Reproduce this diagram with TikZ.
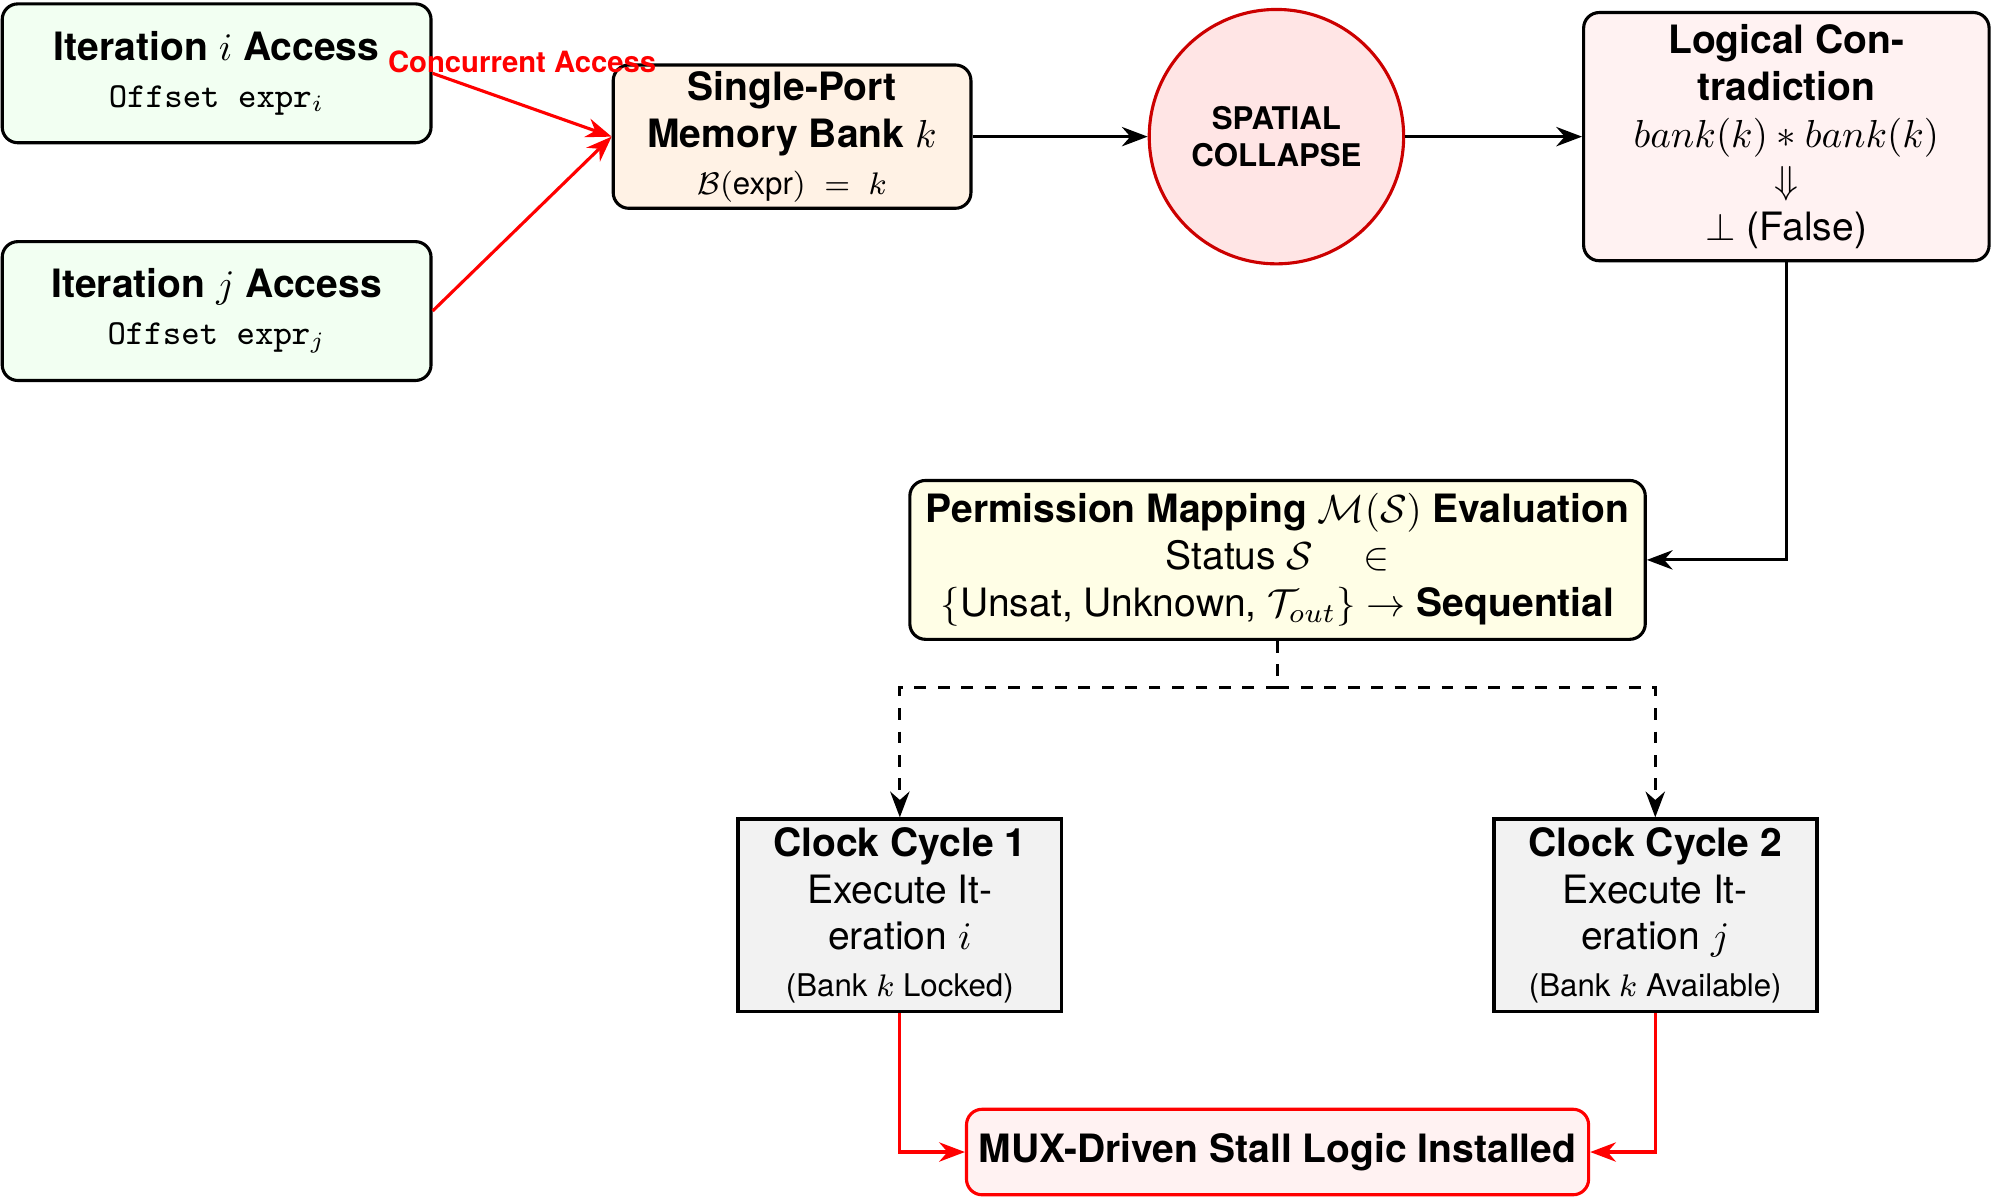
\documentclass[tikz,border=0pt]{standalone}
\usepackage{amsmath}
\usepackage{fontspec}
\setmainfont{TeX Gyre Heros}
\usetikzlibrary{arrows.meta}

\begin{document}
\begin{tikzpicture}[
        >=Stealth,
        box/.style = {draw, thick, rounded corners, align=center, inner sep=3pt}, % базовый блок
        access/.style = {box, fill=green!5, minimum width=3.86cm, minimum height=1.25cm}, % доступ итерации
        bank/.style = {box, inner sep=1pt, fill=orange!10, minimum width=3.22cm, minimum height=1.29cm},
        collapse/.style = {circle, draw=red!80!black, thick, fill=red!10, minimum size=2.29cm, align=center, font=\footnotesize\bfseries},
        logic/.style = {box, fill=red!5, minimum width=3.65cm, minimum height=2.22cm},
        perm/.style = {box, fill=yellow!10, minimum width=6.62cm, minimum height=1.43cm},
        clockbox/.style = {draw, line width=1pt, inner sep=1pt, fill=gray!10, align=center, minimum width=2.91cm, minimum height=1.73cm}, % такт
        mux/.style = {box, draw=red, fill=red!5, minimum width=5.6cm, minimum height=0.77cm},
        flow/.style = {thick, ->}, % обычная стрелка
        conflict/.style = {red, thick, ->}, % красная стрелка
    ]
    \useasboundingbox (0,0) rectangle (17.94,-10.77);

    \node[access] (iteri) at (1.95,-0.66) {\textbf{Iteration $i$ Access}\\{\small\texttt{Offset expr}$_i$}};
    \node[access] (iterj) at (1.95,-2.80) {\textbf{Iteration $j$ Access}\\{\small\texttt{Offset expr}$_j$}};
    \node[bank] (bank) at (7.13,-1.23) {\textbf{Single-Port}\\\textbf{Memory Bank $k$}\\{\footnotesize $\mathcal{B}(\text{expr}) \;=\; k$}};
    \node[collapse] (collapse) at (11.49,-1.23) {SPATIAL\\COLLAPSE};
    \node[logic] (logic) at (16.08,-1.23) {\textbf{Logical Con-}\\\textbf{tradiction}\\$bank(k) * bank(k)$\\$\Downarrow$\\$\perp$ (False)};
    \node[perm] (perm) at (11.50,-5.04) {\textbf{Permission Mapping $\mathcal{M}(\mathcal{S})$ Evaluation}\\Status $\mathcal{S} \quad \in$\\$\{$Unsat, Unknown, $\mathcal{T}_{out}\} \rightarrow$ \textbf{Sequential}};
    \node[clockbox] (cyc1) at (8.10,-8.24) {\textbf{Clock Cycle 1}\\Execute It-\\eration $i$\\{\footnotesize (Bank $k$ Locked)}};
    \node[clockbox] (cyc2) at (14.90,-8.24) {\textbf{Clock Cycle 2}\\Execute It-\\eration $j$\\{\footnotesize (Bank $k$ Available)}};
    \node[mux] (mux) at (11.50,-10.37) {\textbf{MUX-Driven Stall Logic Installed}};
    \coordinate (split) at (11.50,-6.19);

    \draw[flow] (bank) -- (collapse);
    \draw[flow] (collapse) -- (logic);
    \draw[flow] (logic.south) |- (perm.east);
    \draw[thick, dashed] (perm.south) -- (split);
    \draw[thick, dashed, ->] (split) -| (cyc1.north);
    \draw[thick, dashed, ->] (split) -| (cyc2.north);
    \draw[conflict] (cyc1.south) |- (mux.west);
    \draw[conflict] (cyc2.south) |- (mux.east);
    \draw[conflict] (iterj.east) -- (bank.west);
    \draw[conflict] (iteri.east) -- (bank.west) node[midway, above=1.6mm, font=\fontsize{7.5}{9}\selectfont\bfseries] {Concurrent Access};
\end{tikzpicture}
\end{document}
